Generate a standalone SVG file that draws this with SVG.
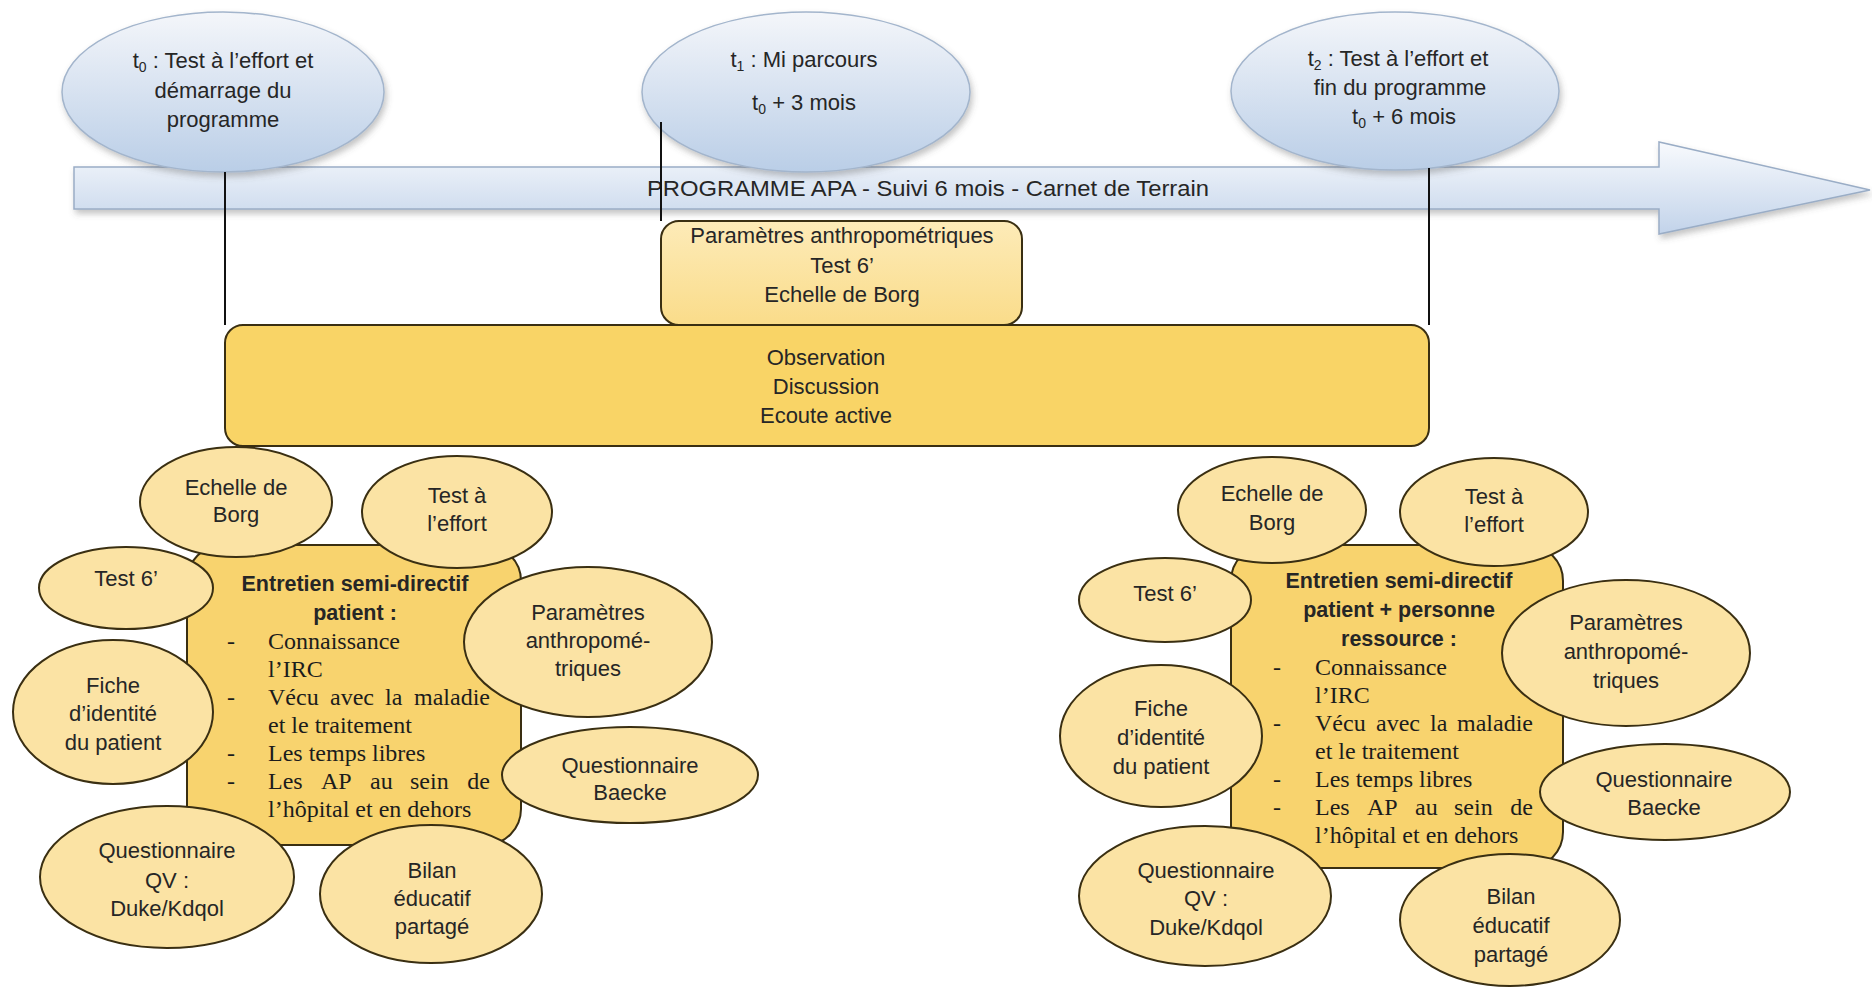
<svg xmlns="http://www.w3.org/2000/svg" width="1872" height="988" viewBox="0 0 1872 988">
<defs>
<linearGradient id="gBlue" x1="0" y1="0" x2="0" y2="1">
<stop offset="0" stop-color="#F4F6FA"/><stop offset="1" stop-color="#BACEE7"/>
</linearGradient>
<linearGradient id="gBar" x1="0" y1="0" x2="0" y2="1">
<stop offset="0" stop-color="#F8FAFD"/><stop offset="1" stop-color="#C2D3EA"/>
</linearGradient>
<linearGradient id="gParam" x1="0" y1="0" x2="0" y2="1">
<stop offset="0" stop-color="#FDEBB8"/><stop offset="1" stop-color="#FADC8A"/>
</linearGradient>
<filter id="shadow" x="-10%" y="-10%" width="130%" height="140%">
<feDropShadow dx="2" dy="4" stdDeviation="3" flood-color="#555" flood-opacity="0.35"/>
</filter>
</defs>
<style>
.sans{font-family:"Liberation Sans",Arial,sans-serif;font-size:22px;fill:#262626;text-anchor:middle}
.bold{font-family:"Liberation Sans",Arial,sans-serif;font-size:21.5px;font-weight:bold;fill:#262626;text-anchor:middle}
.serif{font-family:"Liberation Serif","Times New Roman",serif;font-size:24px;fill:#1c1c1c}
.end{text-anchor:end}
.tl{fill:url(#gBlue);stroke:#A3B5CC;stroke-width:1.5;filter:url(#shadow)}
.bub{fill:#FBE3A4;stroke:#3A2F12;stroke-width:2}
.core{fill:#F8D36E;stroke:#3A2F12;stroke-width:2}
.conn{stroke:#111;stroke-width:2;fill:none}
</style>
<rect width="1872" height="988" fill="#FFFFFF"/>

<g id="timeline-bar">
<path d="M74,167 H1659 V142 L1870,190 L1659,234 V209 H74 Z" fill="url(#gBar)" stroke="#9AADC6" stroke-width="1.5" filter="url(#shadow)"/>
<text class="sans" x="928" y="196" font-size="24" textLength="562" lengthAdjust="spacingAndGlyphs">PROGRAMME APA - Suivi 6 mois - Carnet de Terrain</text>
</g>

<g id="t0">
<ellipse class="tl" cx="223" cy="92" rx="161" ry="80"/>
<text class="sans" x="223" y="68">t<tspan font-size="14" dy="4">0</tspan><tspan dy="-4"> : Test à l’effort et</tspan></text>
<text class="sans" x="223" y="98">démarrage du</text>
<text class="sans" x="223" y="127">programme</text>
</g>
<g id="t1">
<ellipse class="tl" cx="806" cy="92" rx="164" ry="80"/>
<text class="sans" x="804" y="67">t<tspan font-size="14" dy="4">1</tspan><tspan dy="-4"> : Mi parcours</tspan></text>
<text class="sans" x="804" y="110">t<tspan font-size="14" dy="4">0</tspan><tspan dy="-4"> + 3 mois</tspan></text>
</g>
<g id="t2">
<ellipse class="tl" cx="1395" cy="91" rx="164" ry="79"/>
<text class="sans" x="1398" y="66">t<tspan font-size="14" dy="4">2</tspan><tspan dy="-4"> : Test à l’effort et</tspan></text>
<text class="sans" x="1400" y="95">fin du programme</text>
<text class="sans" x="1404" y="124">t<tspan font-size="14" dy="4">0</tspan><tspan dy="-4"> + 6 mois</tspan></text>
</g>

<g id="connectors">
<line class="conn" x1="225" y1="172" x2="225" y2="325"/>
<line class="conn" x1="661" y1="122" x2="661" y2="221"/>
<line class="conn" x1="1429" y1="168" x2="1429" y2="325"/>
</g>

<g id="mid-params">
<rect x="661" y="221" width="361" height="104" rx="18" fill="url(#gParam)" stroke="#3A2F12" stroke-width="2"/>
<text class="sans" x="842" y="243">Paramètres anthropométriques</text>
<text class="sans" x="842" y="273">Test 6’</text>
<text class="sans" x="842" y="302">Echelle de Borg</text>
</g>

<g id="observation">
<rect x="225" y="325" width="1204" height="121" rx="18" fill="#F9D466" stroke="#3A2F12" stroke-width="2"/>
<text class="sans" x="826" y="365">Observation</text>
<text class="sans" x="826" y="394">Discussion</text>
<text class="sans" x="826" y="423">Ecoute active</text>
</g>

<g id="left-core">
<rect class="core" x="187" y="545" width="334" height="300" rx="36"/>
<text class="bold" x="355" y="591">Entretien semi-directif</text>
<text class="bold" x="355" y="620">patient :</text>
<text class="serif" x="227" y="649">-</text><text class="serif" x="268" y="649">Connaissance</text>
<text class="serif" x="268" y="677">l’IRC</text>
<text class="serif" x="227" y="705">-</text><text class="serif" y="705"><tspan x="268">Vécu</tspan><tspan x="330">avec</tspan><tspan x="385">la</tspan></text><text class="serif end" x="490" y="705">maladie</text>
<text class="serif" x="268" y="733">et le traitement</text>
<text class="serif" x="227" y="761">-</text><text class="serif" x="268" y="761">Les temps libres</text>
<text class="serif" x="227" y="789">-</text><text class="serif" y="789"><tspan x="268">Les</tspan><tspan x="321">AP</tspan><tspan x="370">au</tspan><tspan x="410">sein</tspan></text><text class="serif end" x="490" y="789">de</text>
<text class="serif" x="268" y="817">l’hôpital et en dehors</text>
</g>
<g id="l-borg"><ellipse class="bub" cx="236" cy="502" rx="96" ry="55"/><text class="sans" x="236" y="495">Echelle de</text><text class="sans" x="236" y="522">Borg</text></g>
<g id="l-effort"><ellipse class="bub" cx="457" cy="512" rx="95" ry="56"/><text class="sans" x="457" y="503">Test à</text><text class="sans" x="457" y="531">l’effort</text></g>
<g id="l-test6"><ellipse class="bub" cx="126" cy="588" rx="87" ry="41"/><text class="sans" x="126" y="586">Test 6’</text></g>
<g id="l-param"><ellipse class="bub" cx="588" cy="642" rx="124" ry="75"/><text class="sans" x="588" y="620">Paramètres</text><text class="sans" x="588" y="648">anthropomé-</text><text class="sans" x="588" y="676">triques</text></g>
<g id="l-fiche"><ellipse class="bub" cx="113" cy="712" rx="100" ry="72"/><text class="sans" x="113" y="693">Fiche</text><text class="sans" x="113" y="721">d’identité</text><text class="sans" x="113" y="750">du patient</text></g>
<g id="l-baecke"><ellipse class="bub" cx="630" cy="775" rx="128" ry="48"/><text class="sans" x="630" y="773">Questionnaire</text><text class="sans" x="630" y="800">Baecke</text></g>
<g id="l-qv"><ellipse class="bub" cx="167" cy="877" rx="127" ry="71"/><text class="sans" x="167" y="858">Questionnaire</text><text class="sans" x="167" y="888">QV :</text><text class="sans" x="167" y="916">Duke/Kdqol</text></g>
<g id="l-bilan"><ellipse class="bub" cx="431" cy="894" rx="111" ry="69"/><text class="sans" x="432" y="878">Bilan</text><text class="sans" x="432" y="906">éducatif</text><text class="sans" x="432" y="934">partagé</text></g>

<g id="right-core">
<rect class="core" x="1231" y="545" width="332" height="323" rx="36"/>
<text class="bold" x="1399" y="588">Entretien semi-directif</text>
<text class="bold" x="1399" y="617">patient + personne</text>
<text class="bold" x="1399" y="646">ressource :</text>
<text class="serif" x="1273" y="675">-</text><text class="serif" x="1315" y="675">Connaissance</text>
<text class="serif" x="1315" y="703">l’IRC</text>
<text class="serif" x="1273" y="731">-</text><text class="serif" y="731"><tspan x="1315">Vécu</tspan><tspan x="1376">avec</tspan><tspan x="1430">la</tspan></text><text class="serif end" x="1533" y="731">maladie</text>
<text class="serif" x="1315" y="759">et le traitement</text>
<text class="serif" x="1273" y="787">-</text><text class="serif" x="1315" y="787">Les temps libres</text>
<text class="serif" x="1273" y="815">-</text><text class="serif" y="815"><tspan x="1315">Les</tspan><tspan x="1367">AP</tspan><tspan x="1415">au</tspan><tspan x="1454">sein</tspan></text><text class="serif end" x="1533" y="815">de</text>
<text class="serif" x="1315" y="843">l’hôpital et en dehors</text>
</g>
<g id="r-borg"><ellipse class="bub" cx="1272" cy="510" rx="94" ry="53"/><text class="sans" x="1272" y="501">Echelle de</text><text class="sans" x="1272" y="530">Borg</text></g>
<g id="r-effort"><ellipse class="bub" cx="1494" cy="512" rx="94" ry="54"/><text class="sans" x="1494" y="504">Test à</text><text class="sans" x="1494" y="532">l’effort</text></g>
<g id="r-test6"><ellipse class="bub" cx="1165" cy="600" rx="86" ry="42"/><text class="sans" x="1165" y="601">Test 6’</text></g>
<g id="r-param"><ellipse class="bub" cx="1626" cy="653" rx="124" ry="73"/><text class="sans" x="1626" y="630">Paramètres</text><text class="sans" x="1626" y="659">anthropomé-</text><text class="sans" x="1626" y="688">triques</text></g>
<g id="r-fiche"><ellipse class="bub" cx="1161" cy="736" rx="101" ry="71"/><text class="sans" x="1161" y="716">Fiche</text><text class="sans" x="1161" y="745">d’identité</text><text class="sans" x="1161" y="774">du patient</text></g>
<g id="r-baecke"><ellipse class="bub" cx="1665" cy="792" rx="125" ry="48"/><text class="sans" x="1664" y="787">Questionnaire</text><text class="sans" x="1664" y="815">Baecke</text></g>
<g id="r-qv"><ellipse class="bub" cx="1205" cy="896" rx="126" ry="70"/><text class="sans" x="1206" y="878">Questionnaire</text><text class="sans" x="1206" y="906">QV :</text><text class="sans" x="1206" y="935">Duke/Kdqol</text></g>
<g id="r-bilan"><ellipse class="bub" cx="1510" cy="920" rx="110" ry="66"/><text class="sans" x="1511" y="904">Bilan</text><text class="sans" x="1511" y="933">éducatif</text><text class="sans" x="1511" y="962">partagé</text></g>
</svg>
